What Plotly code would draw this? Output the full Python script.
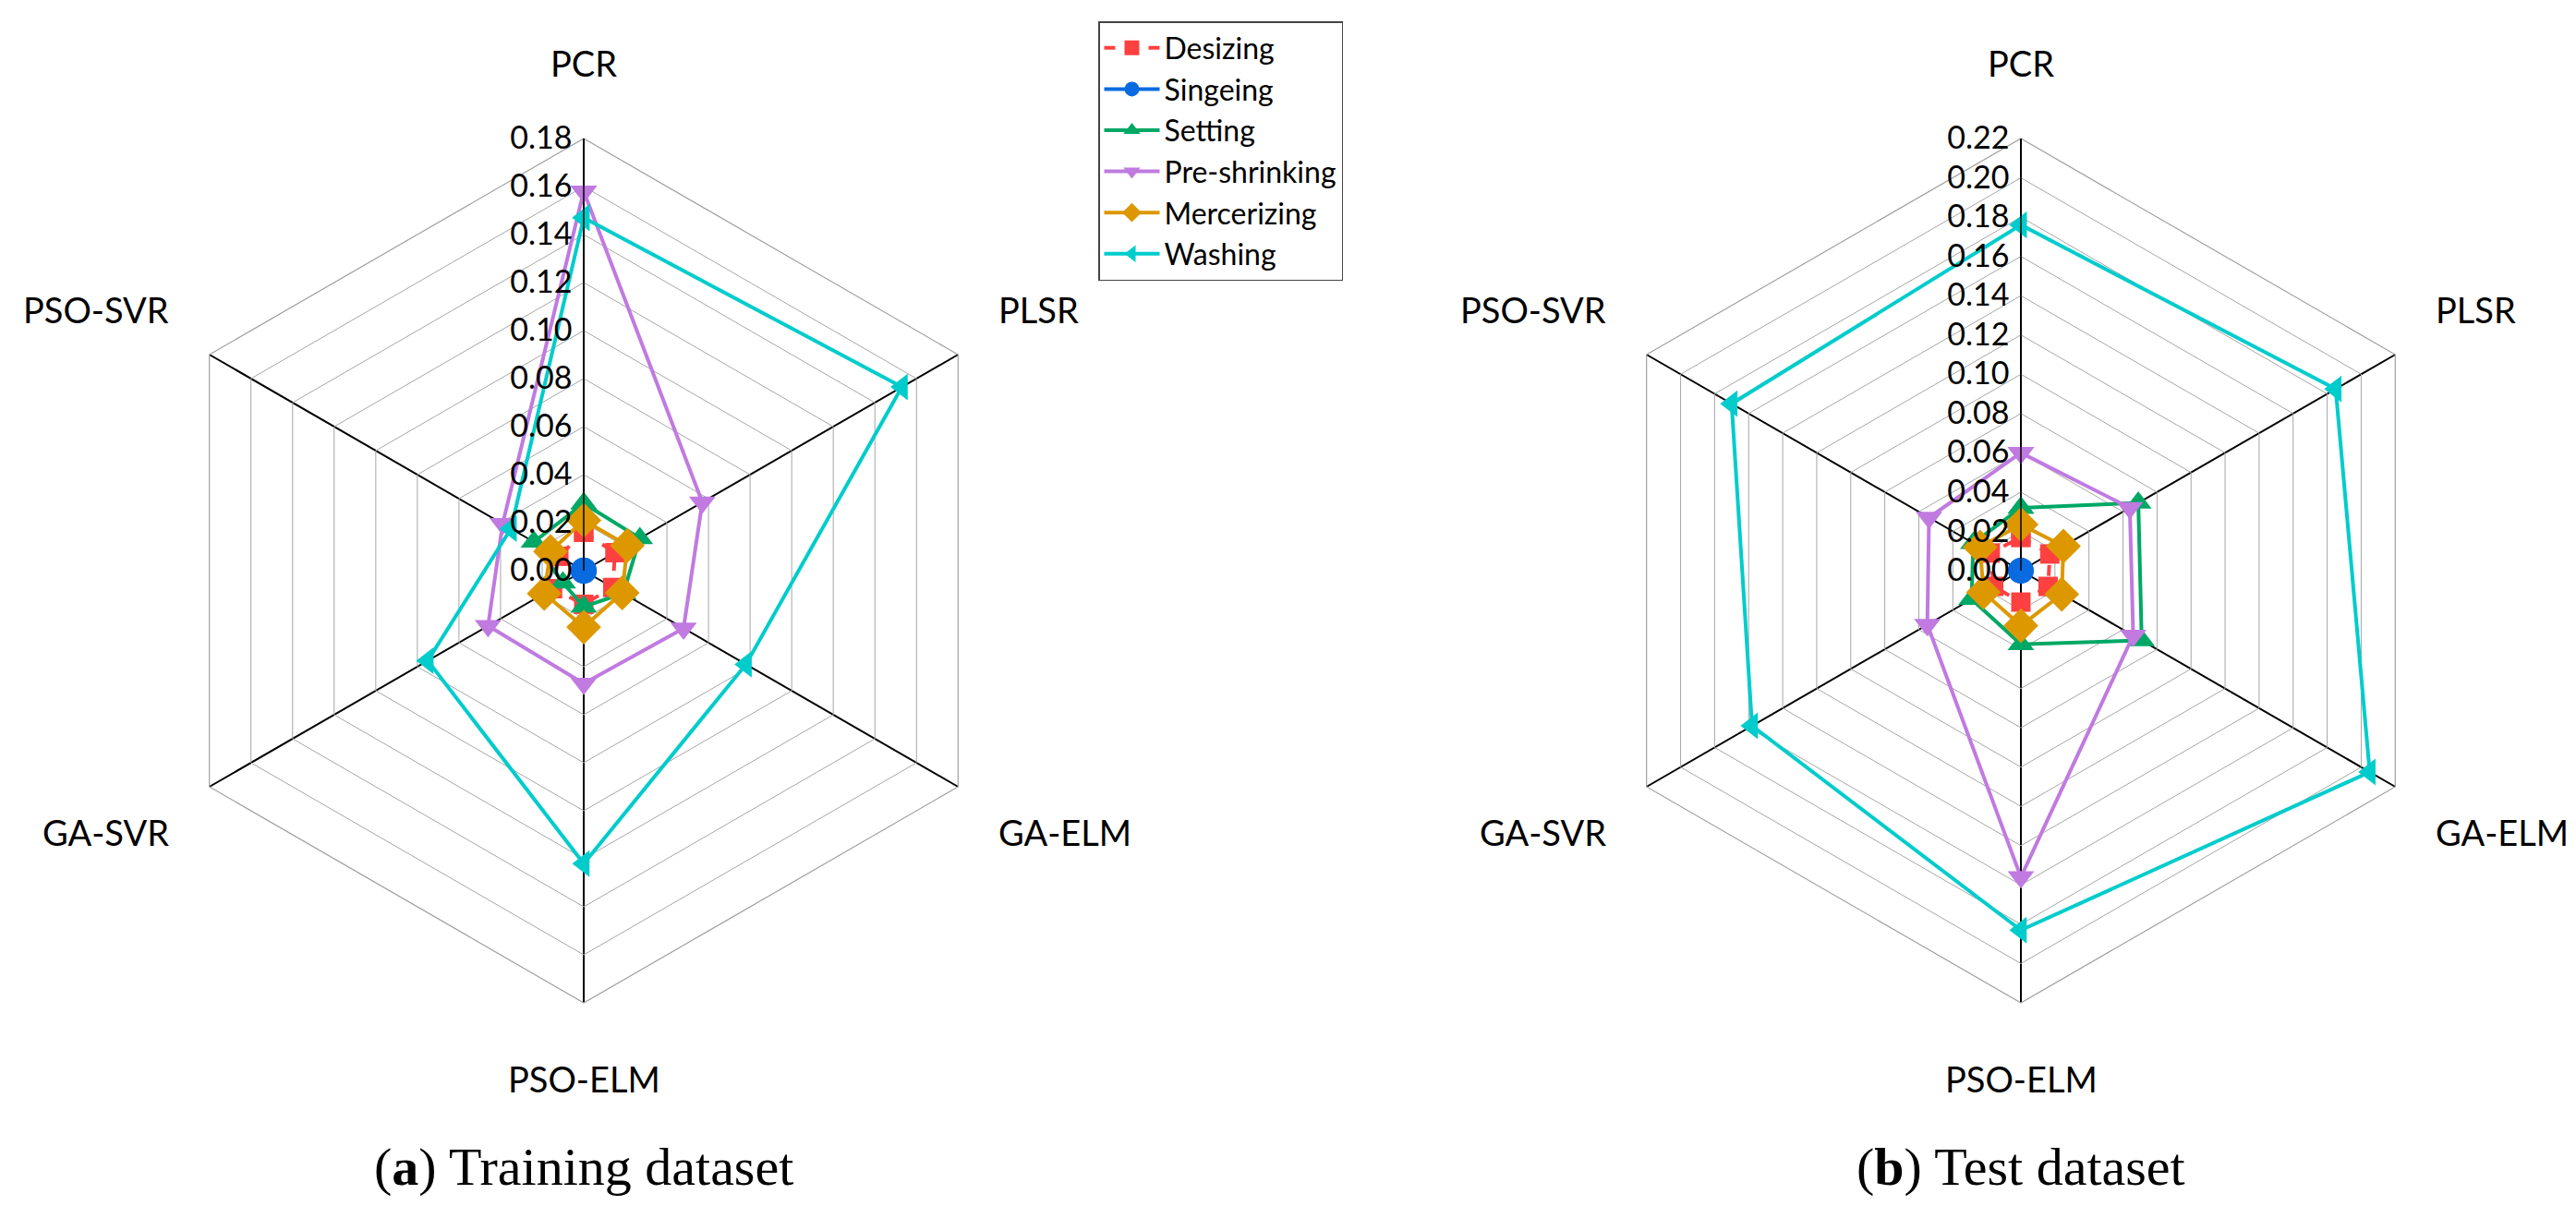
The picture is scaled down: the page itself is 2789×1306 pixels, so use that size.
import plotly.graph_objects as go

W, H = 2789, 1306

categories = ["PCR", "PLSR", "GA-ELM", "PSO-ELM", "GA-SVR", "PSO-SVR"]
series_names = ["Desizing", "Singeing", "Setting", "Pre-shrinking", "Mercerizing", "Washing"]

# Training dataset
train_desizing = [0.016, 0.015, 0.014, 0.014, 0.015, 0.012]
train_singeing = [0.0005, 0.0005, 0.0005, 0.0005, 0.0005, 0.0005]
train_setting = [0.028, 0.027, 0.019, 0.015, 0.010, 0.024]
train_preshrinking = [0.158, 0.057, 0.048, 0.047, 0.046, 0.039]
train_mercerizing = [0.021, 0.021, 0.0185, 0.0235, 0.019, 0.016]
train_washing = [0.147, 0.153, 0.078, 0.122, 0.075, 0.035]

# Test dataset
test_desizing = [0.017, 0.017, 0.016, 0.016, 0.016, 0.018]
test_singeing = [0.0005, 0.0005, 0.0005, 0.0005, 0.0005, 0.0005]
test_setting = [0.032, 0.069, 0.071, 0.0375, 0.029, 0.028]
test_preshrinking = [0.060, 0.064, 0.066, 0.156, 0.055, 0.054]
test_mercerizing = [0.0235, 0.025, 0.024, 0.028, 0.022, 0.024]
test_washing = [0.176, 0.185, 0.205, 0.183, 0.158, 0.170]

train_ticks_max = 0.18
test_ticks_max = 0.22

colors = ["#FF4040", "#0A6BE0", "#00A865", "#C07AE0", "#DD9800", "#00CCCC"]
symbols = ["square", "circle", "triangle-up", "triangle-down", "diamond", "triangle-left"]
dashes = ["dash", "solid", "solid", "solid", "solid", "solid"]
msizes = [21, 26, 25, 25, 29, 25]
draw_order = [0, 2, 3, 4, 5, 1]  # Singeing drawn last so its centre dot stays visible

train = [train_desizing, train_singeing, train_setting, train_preshrinking, train_mercerizing, train_washing]
test = [test_desizing, test_singeing, test_setting, test_preshrinking, test_mercerizing, test_washing]

FONT = "Lato"

fig = go.Figure()
for sub, data in (("polar", train), ("polar2", test)):
    for i in draw_order:
        name = series_names[i]
        r = list(data[i]) + [data[i][0]]
        th = categories + [categories[0]]
        fig.add_trace(go.Scatterpolar(
            r=r, theta=th, name=name, subplot=sub, mode="lines+markers",
            line=dict(color=colors[i], width=4, dash=dashes[i]),
            marker=dict(symbol=symbols[i], size=msizes[i], color=colors[i]),
            showlegend=(sub == "polar"), legendgroup=name, legendrank=100 + i,
            cliponaxis=False,
        ))

R = 468
centers = [(624, 610), (2180, 610)]

def dom(cx, cy):
    return dict(x=[(cx - R) / W, (cx + R) / W], y=[1 - (cy + R) / H, 1 - (cy - R) / H])

def polar_layout(cx, cy, rmax):
    return dict(
        domain=dom(cx, cy),
        gridshape="linear",
        bgcolor="white",
        angularaxis=dict(direction="clockwise", rotation=90, categoryorder="array",
                         categoryarray=categories, showticklabels=False, ticks="",
                         gridcolor="#000000", gridwidth=1.5, linecolor="#A0A0A0", linewidth=1.2,
                         showline=True),
        radialaxis=dict(range=[0, rmax], dtick=0.02, tick0=0, tickformat=".2f", angle=90,
                        side="counterclockwise", gridcolor="#A6A6A6", gridwidth=1.2,
                        showline=True, linecolor="#000000", linewidth=1.5, ticks="",
                        tickfont=dict(family=FONT, size=34, color="black"), tickangle=90),
    )

annotations = []
for (cx, cy) in centers:
    dx, dy, dv = 447, 283, 550
    pos = [
        (cx, cy - dv, "center"),
        (cx + dx, cy - dy, "left"),
        (cx + dx, cy + dy, "left"),
        (cx, cy + dv, "center"),
        (cx - dx, cy + dy, "right"),
        (cx - dx, cy - dy, "right"),
    ]
    for cat, (x, y, xa) in zip(categories, pos):
        annotations.append(dict(x=x / W, y=1 - y / H, xref="paper", yref="paper", text=cat,
                                showarrow=False, xanchor=xa, yanchor="middle",
                                font=dict(family=FONT, size=38, color="black")))

captions = ["(<b>a</b>) Training dataset", "(<b>b</b>) Test dataset"]
for (cx, cy), cap in zip(centers, captions):
    annotations.append(dict(x=cx / W, y=1 - 1255 / H, xref="paper", yref="paper", text=cap,
                            showarrow=False, xanchor="center", yanchor="middle",
                            font=dict(family="Liberation Serif", size=58, color="black")))

fig.update_layout(
    width=W, height=H, margin=dict(l=0, r=0, t=0, b=0),
    paper_bgcolor="white", plot_bgcolor="white",
    polar=polar_layout(*centers[0], train_ticks_max),
    polar2=polar_layout(*centers[1], test_ticks_max),
    legend=dict(x=1181 / W, y=1 - 15 / H, xanchor="left", yanchor="top",
                bordercolor="#444444", borderwidth=1.5, bgcolor="white",
                font=dict(family=FONT, size=32, color="black"), tracegroupgap=0,
                itemwidth=60, traceorder="normal"),
    annotations=annotations,
)

fig.write_html("out.html")
